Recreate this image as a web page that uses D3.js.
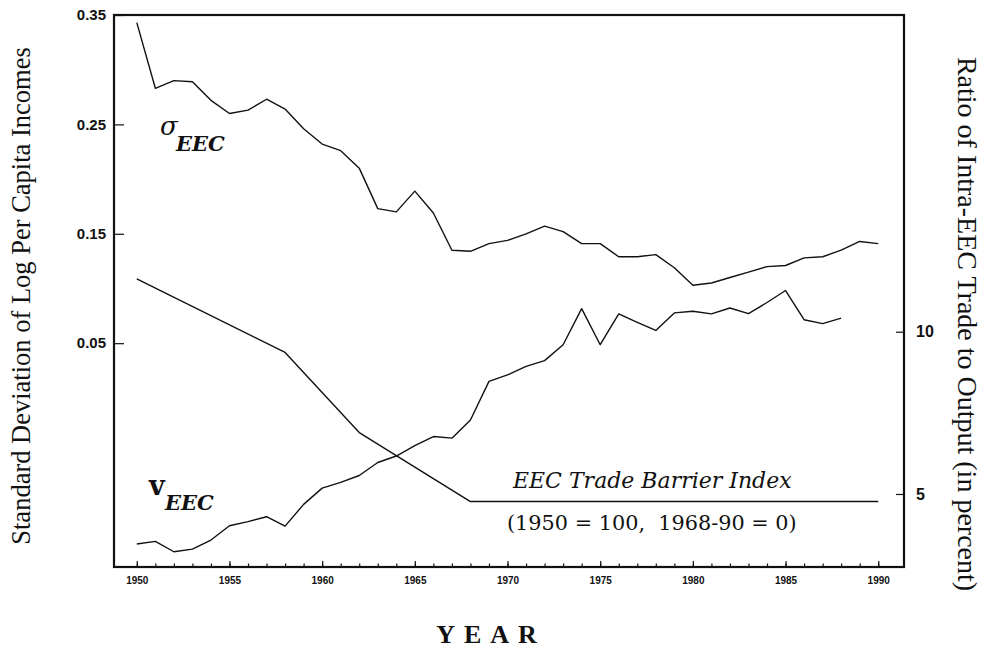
<!DOCTYPE html>
<html>
<head>
<meta charset="utf-8">
<script src="https://cdn.jsdelivr.net/npm/d3@7"></script>
<style>
  html, body { margin: 0; padding: 0; background: #fff; }
  svg { display: block; }
  text { fill: #111; }
</style>
</head>
<body>
<div id="chart"></div>
<script>
// ---------- DATA ----------
const sigmaYears = [1950,1951,1952,1953,1954,1955,1956,1957,1958,1959,1960,1961,1962,1963,1964,1965,1966,1967,1968,1969,1970,1971,1972,1973,1974,1975,1976,1977,1978,1979,1980,1981,1982,1983,1984,1985,1986,1987,1988,1989,1990];
const sigmaValues = [0.343,0.283,0.290,0.289,0.272,0.260,0.263,0.273,0.264,0.246,0.232,0.226,0.210,0.173,0.170,0.189,0.169,0.135,0.134,0.141,0.144,0.150,0.157,0.152,0.141,0.141,0.129,0.129,0.131,0.119,0.103,0.105,0.110,0.115,0.120,0.121,0.128,0.129,0.135,0.143,0.141];

const tradeYears = [1950,1951,1952,1953,1954,1955,1956,1957,1958,1959,1960,1961,1962,1963,1964,1965,1966,1967,1968,1969,1970,1971,1972,1973,1974,1975,1976,1977,1978,1979,1980,1981,1982,1983,1984,1985,1986,1987,1988];
const tradeValues = [3.46,3.54,3.22,3.30,3.58,4.02,4.15,4.30,4.01,4.68,5.18,5.36,5.57,5.97,6.17,6.49,6.77,6.72,7.28,8.47,8.67,8.93,9.11,9.60,10.71,9.60,10.55,10.29,10.04,10.58,10.63,10.55,10.73,10.56,10.90,11.27,10.37,10.25,10.42];

const barrierYears = [1950,1958,1962,1968,1990];
const barrierValues = [100,67,31,0,0];

const leftTicks = [0.05,0.15,0.25,0.35];
const leftTickLabels = ["0.05","0.15","0.25","0.35"];
const rightTicks = [5,10];
const rightTickLabels = ["5","10"];
const xMajorTicks = [1950,1955,1960,1965,1970,1975,1980,1985,1990];
const xMinorTicks = [1950,1951,1952,1953,1954,1955,1956,1957,1958,1959,1960,1961,1962,1963,1964,1965,1966,1967,1968,1969,1970,1971,1972,1973,1974,1975,1976,1977,1978,1979,1980,1981,1982,1983,1984,1985,1986,1987,1988,1989,1990];

// ---------- LAYOUT ----------
const W = 984, H = 651;
const m = {left: 114, top: 15, right: 80, bottom: 84};
const w = W - m.left - m.right;   // 790
const h = H - m.top - m.bottom;   // 552

const svg = d3.select("#chart").append("svg").attr("width", W).attr("height", H);
const g = svg.append("g").attr("transform", `translate(${m.left},${m.top})`);

const x = d3.scaleLinear().domain([1948.77, 1991.39]).range([0, w]);
const yL = d3.scaleLinear().domain([-0.1546, 0.35]).range([h, 0]);
const yR = d3.scaleLinear().domain([2.75, 19.76]).range([h, 0]);
const yB = d3.scaleLinear().domain([-29.4, 218.6]).range([h, 0]);

const serif = "'Liberation Serif','DejaVu Serif','Times New Roman',serif";
const serif2 = "'DejaVu Serif','Liberation Serif',serif";
const sans = "'Liberation Sans',Arial,sans-serif";

// Frame
g.append("rect").attr("x",0).attr("y",0).attr("width",w).attr("height",h)
  .attr("fill","none").attr("stroke","#111").attr("stroke-width",2.2);

// Bottom axis (ticks inward)
const xMinor = d3.axisBottom(x).tickValues(xMinorTicks).tickSize(-3.5).tickFormat("");
const gxm = g.append("g").attr("transform",`translate(0,${h})`).call(xMinor);
gxm.select(".domain").remove();
gxm.selectAll("line").attr("stroke","#111").attr("stroke-width",1.2);

const xMajor = d3.axisBottom(x).tickValues(xMajorTicks).tickSize(-6).tickPadding(10).tickFormat(d3.format("d"));
const gx = g.append("g").attr("transform",`translate(0,${h})`).call(xMajor);
gx.select(".domain").remove();
gx.selectAll("line").attr("stroke","#111").attr("stroke-width",1.2);
gx.selectAll("text").attr("font-family",sans).attr("font-weight","bold").attr("font-size",10).attr("fill","#111");

// Left axis
const yAxL = d3.axisLeft(yL).tickValues(leftTicks).tickSize(-10).tickPadding(8)
  .tickFormat((d,i) => leftTickLabels[i]);
const gl = g.append("g").call(yAxL);
gl.select(".domain").remove();
gl.selectAll("line").attr("stroke","#111").attr("stroke-width",1.2);
gl.selectAll("text").attr("font-family",sans).attr("font-weight","bold").attr("font-size",15).attr("fill","#111");

// Right axis
const yAxR = d3.axisRight(yR).tickValues(rightTicks).tickSize(-8).tickPadding(12)
  .tickFormat((d,i) => rightTickLabels[i]);
const gr = g.append("g").attr("transform",`translate(${w},0)`).call(yAxR);
gr.select(".domain").remove();
gr.selectAll("line").attr("stroke","#111").attr("stroke-width",1.2);
gr.selectAll("text").attr("font-family",sans).attr("font-weight","bold").attr("font-size",16).attr("fill","#111");

// Lines
const mk = (ys) => d3.line().x(d => x(d[0])).y(d => ys(d[1]));
g.append("path").datum(d3.zip(sigmaYears, sigmaValues))
  .attr("d", mk(yL)).attr("fill","none").attr("stroke","#111").attr("stroke-width",1.4).attr("stroke-linejoin","round");
g.append("path").datum(d3.zip(tradeYears, tradeValues))
  .attr("d", mk(yR)).attr("fill","none").attr("stroke","#111").attr("stroke-width",1.4).attr("stroke-linejoin","round");
g.append("path").datum(d3.zip(barrierYears, barrierValues))
  .attr("d", mk(yB)).attr("fill","none").attr("stroke","#111").attr("stroke-width",1.4).attr("stroke-linejoin","round");

// Annotations
svg.append("text").attr("x",160).attr("y",135).attr("font-family",serif2).attr("font-style","italic")
  .attr("font-size",26).text("σ");
svg.append("text").attr("x",176).attr("y",151).attr("font-family",serif2).attr("font-style","italic")
  .attr("font-size",21).attr("font-weight","bold").text("EEC");

svg.append("text").attr("x",149).attr("y",495).attr("font-family",serif2)
  .attr("font-size",27).attr("font-weight","bold").text("v");
svg.append("text").attr("x",165).attr("y",510).attr("font-family",serif2).attr("font-style","italic")
  .attr("font-size",21).attr("font-weight","bold").text("EEC");

svg.append("text").attr("x",513).attr("y",488).attr("font-family",serif2).attr("font-style","italic")
  .attr("font-size",22).text("EEC Trade Barrier Index");
svg.append("text").attr("x",507).attr("y",530).attr("font-family",serif2)
  .attr("font-size",20.8).style("white-space","pre").text("(1950 = 100,  1968-90 = 0)");

// Axis titles
svg.append("text").attr("transform","translate(30,296) rotate(-90)").attr("text-anchor","middle")
  .attr("font-family",serif).attr("font-size",26.5).text("Standard Deviation of Log Per Capita Incomes");
svg.append("text").attr("transform","translate(958,324) rotate(90)").attr("text-anchor","middle")
  .attr("font-family",serif).attr("font-size",28).text("Ratio of Intra-EEC Trade to Output (in percent)");

svg.append("text").attr("x",491).attr("y",643).attr("text-anchor","middle")
  .attr("font-family",serif).attr("font-weight","bold").attr("font-size",26)
  .attr("letter-spacing",9).text("YEAR");
</script>
</body>
</html>
